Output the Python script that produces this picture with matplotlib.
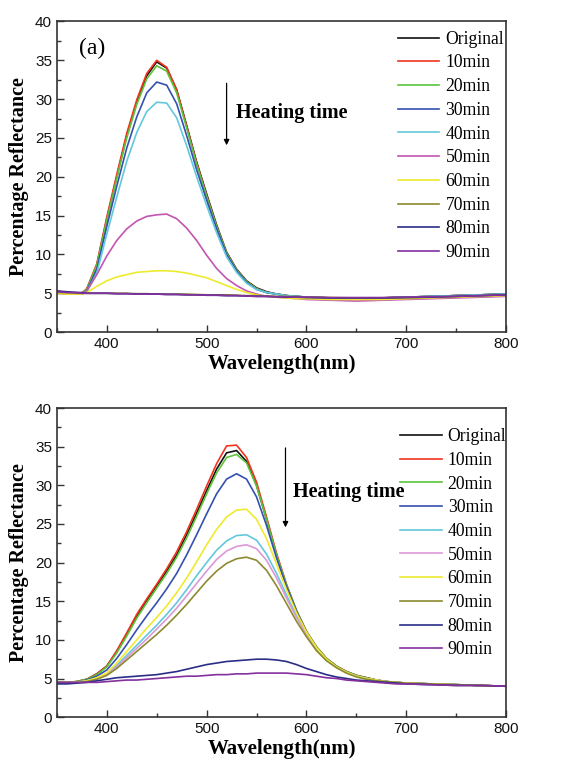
import numpy as np
import matplotlib.pyplot as plt
from matplotlib.ticker import MultipleLocator

# wavelength grids (nm)
wl_a = [350, 360, 370, 375, 380, 390, 400, 410, 420, 430, 440, 450, 460, 470, 480,
        490, 500, 510, 520, 530, 540, 550, 560, 570, 580, 590, 600,
        625, 650, 675, 700, 725, 750, 775, 800]
wl_b = [350, 360, 370, 380, 390, 400, 410, 420, 430, 440, 450, 460, 470, 480, 490,
        500, 510, 520, 530, 540, 550, 560, 570, 580, 590, 600, 610, 620, 630, 640,
        650, 660, 670, 680, 690, 700, 725, 750, 775, 800]

labels = ["Original", "10min", "20min", "30min", "40min", "50min",
          "60min", "70min", "80min", "90min"]

# panel (a) reflectance values (%)
a_orig = [5.2, 5.1, 5.0, 5.0, 5.5, 8.6, 14.5, 20.0, 25.3, 29.6, 33.0, 34.8, 34.0, 31.2, 26.6,
          21.9, 17.8, 13.8, 10.3, 8.1, 6.6, 5.7, 5.2, 4.9, 4.7, 4.6, 4.5,
          4.4, 4.4, 4.4, 4.5, 4.6, 4.7, 4.8, 4.9]
a_10 = [5.3, 5.1, 5.0, 5.0, 5.6, 8.8, 14.8, 20.3, 25.6, 29.9, 33.3, 35.0, 34.1, 31.2, 26.5,
        21.8, 17.6, 13.6, 10.2, 8.0, 6.5, 5.6, 5.1, 4.9, 4.7, 4.6, 4.5,
        4.4, 4.4, 4.4, 4.5, 4.6, 4.7, 4.8, 4.9]
a_20 = [5.2, 5.1, 5.0, 5.0, 5.5, 8.6, 14.4, 19.8, 25.0, 29.3, 32.6, 34.3, 33.6, 30.8, 26.3,
        21.6, 17.5, 13.6, 10.2, 8.0, 6.5, 5.6, 5.1, 4.9, 4.7, 4.6, 4.5,
        4.4, 4.4, 4.4, 4.5, 4.6, 4.7, 4.8, 4.9]
a_30 = [5.1, 5.0, 4.9, 4.9, 5.3, 8.1, 13.6, 18.8, 23.7, 27.7, 30.8, 32.2, 31.8, 29.4, 25.3,
        20.9, 17.0, 13.3, 10.0, 7.9, 6.4, 5.5, 5.1, 4.9, 4.7, 4.6, 4.5,
        4.4, 4.4, 4.4, 4.5, 4.6, 4.7, 4.8, 4.9]
a_40 = [5.0, 5.0, 4.9, 4.9, 5.2, 7.6, 12.6, 17.4, 22.0, 25.7, 28.4, 29.6, 29.5, 27.6, 24.0,
        20.0, 16.3, 12.8, 9.7, 7.7, 6.3, 5.5, 5.1, 4.9, 4.7, 4.6, 4.5,
        4.4, 4.4, 4.4, 4.5, 4.6, 4.7, 4.8, 4.9]
a_50 = [5.0, 4.9, 4.9, 4.9, 5.3, 7.4, 9.8, 11.8, 13.3, 14.3, 14.9, 15.1, 15.2, 14.6, 13.4,
        11.8, 9.9, 8.2, 6.9, 6.0, 5.3, 4.9, 4.6, 4.5, 4.4, 4.3, 4.2,
        4.1, 4.0, 4.1, 4.2, 4.3, 4.4, 4.5, 4.6]
a_60 = [5.0, 4.9, 4.9, 4.9, 5.1, 5.9, 6.6, 7.1, 7.4, 7.7, 7.8, 7.9, 7.9, 7.8, 7.6,
        7.3, 7.0, 6.5, 6.0, 5.5, 5.1, 4.8, 4.6, 4.5, 4.4, 4.3, 4.3,
        4.2, 4.2, 4.2, 4.3, 4.4, 4.5, 4.6, 4.7]
a_70 = [5.1, 5.1, 5.0, 5.0, 5.0, 5.0, 5.0, 5.0, 5.0, 4.95, 4.95, 4.9, 4.9, 4.9, 4.9,
        4.85, 4.8, 4.8, 4.8, 4.75, 4.7, 4.7, 4.65, 4.6, 4.6, 4.55, 4.5,
        4.45, 4.4, 4.4, 4.45, 4.5, 4.6, 4.7, 4.8]
a_80 = [5.3, 5.2, 5.1, 5.1, 5.0, 5.0, 5.0, 4.95, 4.95, 4.9, 4.9, 4.9, 4.85, 4.85, 4.8,
        4.8, 4.75, 4.75, 4.7, 4.7, 4.65, 4.6, 4.6, 4.55, 4.5, 4.5, 4.45,
        4.4, 4.4, 4.4, 4.45, 4.5, 4.6, 4.7, 4.8]
a_90 = [5.2, 5.1, 5.1, 5.0, 5.0, 5.0, 5.0, 4.95, 4.95, 4.9, 4.9, 4.9, 4.85, 4.85, 4.8,
        4.8, 4.75, 4.75, 4.7, 4.7, 4.65, 4.6, 4.6, 4.55, 4.55, 4.5, 4.5,
        4.45, 4.45, 4.45, 4.5, 4.55, 4.6, 4.7, 4.8]

# panel (b) reflectance values (%)
b_orig = [4.5, 4.5, 4.6, 4.9, 5.6, 6.6, 8.5, 10.8, 13.1, 15.1, 17.0, 18.9, 21.0, 23.6, 26.4,
          29.3, 32.1, 34.2, 34.5, 33.1, 30.0, 25.6, 21.0, 17.0, 13.7, 11.0, 9.0, 7.6, 6.6, 5.9,
          5.4, 5.1, 4.8, 4.6, 4.5, 4.4, 4.3, 4.2, 4.1, 4.0]
b_10 = [4.5, 4.5, 4.6, 4.9, 5.6, 6.6, 8.6, 10.9, 13.3, 15.3, 17.2, 19.2, 21.4, 24.0, 26.9,
        29.9, 32.8, 35.1, 35.2, 33.6, 30.4, 25.9, 21.2, 17.2, 13.8, 11.1, 9.1, 7.6, 6.6, 5.9,
        5.4, 5.1, 4.8, 4.6, 4.5, 4.4, 4.3, 4.2, 4.1, 4.0]
b_20 = [4.5, 4.5, 4.6, 4.9, 5.5, 6.5, 8.3, 10.5, 12.8, 14.8, 16.7, 18.6, 20.7, 23.2, 26.0,
        28.9, 31.6, 33.6, 34.0, 32.9, 29.9, 25.6, 21.0, 17.1, 13.8, 11.1, 9.1, 7.6, 6.6, 5.9,
        5.4, 5.1, 4.8, 4.6, 4.5, 4.4, 4.3, 4.2, 4.1, 4.0]
b_30 = [4.5, 4.5, 4.5, 4.8, 5.3, 6.1, 7.6, 9.4, 11.3, 13.1, 14.8, 16.6, 18.6, 21.0, 23.6,
        26.3, 28.9, 30.8, 31.5, 30.8, 28.5, 24.8, 20.6, 16.9, 13.7, 11.0, 9.0, 7.5, 6.5, 5.8,
        5.3, 5.0, 4.8, 4.6, 4.5, 4.4, 4.3, 4.2, 4.1, 4.0]
b_40 = [4.5, 4.5, 4.5, 4.7, 5.0, 5.6, 6.7, 8.0, 9.3, 10.6, 11.9, 13.3, 14.8, 16.5, 18.3,
        20.0, 21.6, 22.8, 23.5, 23.6, 22.9, 21.1, 18.6, 15.8, 13.1, 10.8, 8.9, 7.5, 6.5, 5.8,
        5.3, 5.0, 4.8, 4.6, 4.5, 4.4, 4.3, 4.2, 4.1, 4.0]
b_50 = [4.5, 4.5, 4.5, 4.7, 5.0, 5.5, 6.5, 7.7, 8.9, 10.1, 11.4, 12.7, 14.1, 15.7, 17.3,
        18.9, 20.4, 21.5, 22.1, 22.3, 21.8, 20.3, 18.0, 15.4, 12.9, 10.7, 8.8, 7.4, 6.5, 5.8,
        5.3, 5.0, 4.8, 4.6, 4.5, 4.4, 4.3, 4.2, 4.1, 4.0]
b_60 = [4.5, 4.5, 4.5, 4.7, 5.1, 5.7, 7.0, 8.5, 10.0, 11.5, 12.9, 14.4, 16.1, 18.0, 20.1,
        22.3, 24.3, 25.9, 26.8, 26.9, 25.6, 23.1, 19.8, 16.5, 13.5, 11.0, 9.0, 7.5, 6.5, 5.8,
        5.3, 5.0, 4.8, 4.6, 4.5, 4.4, 4.3, 4.2, 4.1, 4.0]
b_70 = [4.5, 4.5, 4.5, 4.6, 4.9, 5.4, 6.3, 7.4, 8.5, 9.6, 10.7, 11.9, 13.2, 14.6, 16.1,
        17.6, 18.9, 19.9, 20.5, 20.7, 20.3, 19.0, 17.0, 14.7, 12.4, 10.4, 8.6, 7.3, 6.4, 5.7,
        5.2, 4.9, 4.7, 4.6, 4.5, 4.4, 4.3, 4.2, 4.1, 4.0]
b_80 = [4.3, 4.3, 4.4, 4.5, 4.7, 4.9, 5.1, 5.2, 5.3, 5.4, 5.5, 5.7, 5.9, 6.2, 6.5,
        6.8, 7.0, 7.2, 7.3, 7.4, 7.5, 7.5, 7.4, 7.2, 6.8, 6.3, 5.9, 5.5, 5.2, 5.0,
        4.8, 4.7, 4.6, 4.5, 4.4, 4.3, 4.2, 4.1, 4.1, 4.0]
b_90 = [4.5, 4.5, 4.5, 4.5, 4.5, 4.6, 4.7, 4.8, 4.8, 4.9, 5.0, 5.1, 5.2, 5.3, 5.3,
        5.4, 5.5, 5.5, 5.6, 5.6, 5.7, 5.7, 5.7, 5.7, 5.6, 5.5, 5.3, 5.1, 5.0, 4.8,
        4.7, 4.6, 4.5, 4.4, 4.3, 4.3, 4.2, 4.1, 4.1, 4.0]

series_a = [a_orig, a_10, a_20, a_30, a_40, a_50, a_60, a_70, a_80, a_90]
series_b = [b_orig, b_10, b_20, b_30, b_40, b_50, b_60, b_70, b_80, b_90]

colors_a = ["#111111", "#f0341e", "#5cc43a", "#3550b0", "#62c8dc", "#c255b2",
            "#eeea2e", "#8c8a30", "#2a2e86", "#84309e"]
colors_b = ["#111111", "#f0341e", "#5cc43a", "#3550b0", "#62c8dc", "#dc98d6",
            "#eeea2e", "#8c8a30", "#2a2e86", "#84309e"]

serif = "Liberation Serif"
sans = "Liberation Sans"

fig = plt.figure(figsize=(5.63, 7.67), dpi=100)
ax1 = fig.add_axes([0.101, 0.567, 0.798, 0.405])
ax2 = fig.add_axes([0.101, 0.065, 0.798, 0.403])


def style(ax):
    ax.set_xlim(350, 800)
    ax.set_ylim(0, 40)
    ax.xaxis.set_major_locator(MultipleLocator(100))
    ax.xaxis.set_minor_locator(MultipleLocator(50))
    ax.yaxis.set_major_locator(MultipleLocator(5))
    ax.yaxis.set_minor_locator(MultipleLocator(2.5))
    ax.tick_params(which="both", direction="in", top=False, right=False,
                   colors="#333333", labelcolor="#111111")
    ax.tick_params(which="major", length=5, width=1, labelsize=11)
    ax.tick_params(which="minor", length=3, width=1)
    for lab in ax.get_xticklabels() + ax.get_yticklabels():
        lab.set_fontfamily(sans)
    for sp in ax.spines.values():
        sp.set_color("#333333")
        sp.set_linewidth(1.2)
    ax.set_xlabel("Wavelength(nm)", fontfamily=serif, fontweight="bold",
                  fontsize=15, labelpad=2)
    ax.set_ylabel("Percentage Reflectance", fontfamily=serif, fontweight="bold",
                  fontsize=14.5, labelpad=4)


for vals, c, lab in zip(series_a, colors_a, labels):
    ax1.plot(wl_a, vals, color=c, lw=1.2, label=lab)
for vals, c, lab in zip(series_b, colors_b, labels):
    ax2.plot(wl_b, vals, color=c, lw=1.2, label=lab)

style(ax1)
style(ax2)

leg_kw = dict(loc="upper left", frameon=False, handlelength=2.35, handletextpad=0.35,
              labelspacing=0.38, borderpad=0, borderaxespad=0,
              prop={"family": serif, "size": 12.7})
ax1.legend(bbox_to_anchor=(0.759, 0.97), **leg_kw)
ax2.legend(bbox_to_anchor=(0.764, 0.935), **leg_kw)

ax1.text(372, 36.5, "(a)", fontfamily=serif, fontsize=17, va="center")

ax1.annotate("", xy=(520, 23.7), xytext=(520, 32.4),
             arrowprops=dict(arrowstyle="-|>", color="black", lw=0.9,
                             mutation_scale=8))
ax1.text(529, 28.2, "Heating time", fontfamily=serif, fontweight="bold",
         fontsize=14.5, va="center")

ax2.annotate("", xy=(579, 24.2), xytext=(579, 35.2),
             arrowprops=dict(arrowstyle="-|>", color="black", lw=0.9,
                             mutation_scale=8))
ax2.text(587, 29.1, "Heating time", fontfamily=serif, fontweight="bold",
         fontsize=14.5, va="center")

fig.savefig("out.png", dpi=100)
